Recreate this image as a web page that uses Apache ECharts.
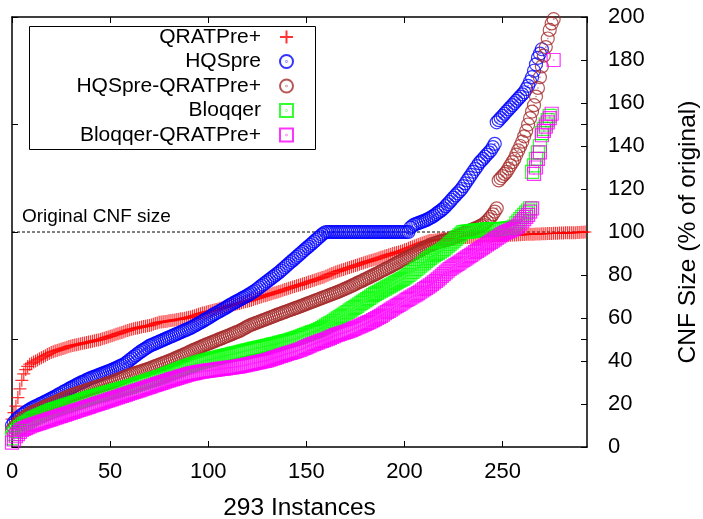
<!DOCTYPE html>
<html>
<head>
<meta charset="utf-8">
<title>CNF size</title>
<script src="https://cdn.jsdelivr.net/npm/echarts@6/dist/echarts.min.js"></script>
<style>
  html, body { margin: 0; padding: 0; background: #fff; }
  #chart { width: 703px; height: 519px; }
</style>
</head>
<body>
<div id="chart"></div>
<script>
// series names / colours, as in the key
var seriesNames = ['QRATPre+', 'HQSpre', 'HQSpre-QRATPre+', 'Bloqqer', 'Bloqqer-QRATPre+'];
var seriesColors = ['#ff0000', '#0000ff', '#a52a2a', '#00ff00', '#ff00ff'];
var xName = '293 Instances';
var yName = 'CNF Size (% of original)';
var refValue = 100;
var refLabel = 'Original CNF size';

// sorted CNF sizes (% of original), one value per instance rank
var qratpre = [
  13, 16, 19, 23, 27, 31, 34, 36, 37.5, 38.5,
  39, 39.5, 40, 40.5, 41, 41.5, 42, 42.5, 43, 43.5,
  44, 44.3, 44.6, 44.9, 45.2, 45.5, 45.8, 46.1, 46.4, 46.7,
  47, 47.2, 47.4, 47.6, 47.8, 48, 48.2, 48.4, 48.6, 48.8,
  49, 49.2, 49.4, 49.6, 49.8, 50, 50.3, 50.6, 50.9, 51.2,
  51.5, 51.8, 52.1, 52.4, 52.7, 53, 53.3, 53.6, 53.9, 54.2,
  54.5, 54.8, 55, 55.2, 55.4, 55.6, 55.8, 56, 56.2, 56.4,
  56.5, 56.8, 57.1, 57.4, 57.7, 58, 58.1, 58.2, 58.4, 58.5,
  58.7, 58.8, 59, 59.1, 59.3, 59.4, 59.6, 59.7, 59.9, 60.1,
  60.3, 60.5, 60.8, 61.1, 61.4, 61.7, 62, 62.3, 62.5, 62.8,
  63, 63.2, 63.5, 63.7, 64, 64.2, 64.5, 64.7, 65, 65.2,
  65.5, 65.7, 66, 66.2, 66.4, 66.6, 66.8, 67.1, 67.3, 67.6,
  67.8, 68, 68.3, 68.6, 68.9, 69.2, 69.5, 69.8, 70.1, 70.4,
  70.6, 70.9, 71.2, 71.5, 71.7, 72, 72.3, 72.6, 72.9, 73.2,
  73.5, 73.8, 74.1, 74.4, 74.7, 75, 75.2, 75.5, 75.8, 76.1,
  76.4, 76.7, 77, 77.3, 77.6, 77.9, 78.2, 78.5, 78.8, 79.1,
  79.5, 79.9, 80.3, 80.7, 81, 81.4, 81.7, 82, 82.3, 82.6,
  82.9, 83.2, 83.5, 83.8, 84.1, 84.4, 84.7, 85, 85.3, 85.6,
  85.9, 86.2, 86.5, 86.7, 87, 87.3, 87.6, 87.9, 88.2, 88.5,
  88.8, 89.1, 89.4, 89.7, 90, 90.2, 90.5, 90.7, 91, 91.3,
  91.7, 92, 92.4, 92.8, 93.1, 93.5, 93.8, 94.2, 94.5, 94.9,
  95.2, 95.5, 95.8, 96, 96.1, 96.2, 96.3, 96.5, 96.6, 96.7,
  96.8, 96.9, 97, 97, 97.1, 97.1, 97.2, 97.2, 97.3, 97.3,
  97.4, 97.4, 97.5, 97.5, 97.6, 97.6, 97.7, 97.7, 97.8, 97.9,
  98, 98, 98, 98.1, 98.1, 98.2, 98.2, 98.2, 98.3, 98.3,
  98.4, 98.4, 98.4, 98.5, 98.5, 98.6, 98.6, 98.6, 98.7, 98.7,
  98.8, 98.8, 98.9, 98.9, 99, 99, 99, 99.1, 99.1, 99.1,
  99.2, 99.2, 99.2, 99.3, 99.3, 99.3, 99.4, 99.4, 99.4, 99.5,
  99.5, 99.5, 99.6, 99.6, 99.6, 99.7, 99.7, 99.7, 99.8, 99.8,
  99.9, 99.9, 100
];

var hqspre = [
  10, 11.5, 12.5, 13.5, 14.3, 15, 15.6, 16.2, 16.8, 17.4,
  18, 18.4, 18.9, 19.3, 19.8, 20.2, 20.7, 21.1, 21.6, 22,
  22.5, 23, 23.5, 24, 24.5, 25, 25.5, 26, 26.5, 27,
  27.5, 28, 28.5, 29, 29.4, 29.9, 30.3, 30.7, 31.2, 31.6,
  32, 32.4, 32.7, 33, 33.4, 33.8, 34.1, 34.5, 34.8, 35.2,
  35.5, 35.9, 36.3, 36.7, 37.2, 37.6, 38, 38.5, 39, 39.7,
  40.5, 41.2, 41.9, 42.6, 43.3, 44, 44.6, 45.2, 45.8, 46.4,
  47, 47.4, 47.8, 48.2, 48.6, 49, 49.4, 49.8, 50.2, 50.6,
  51, 51.4, 51.8, 52.2, 52.6, 53, 53.4, 53.8, 54.2, 54.6,
  55, 55.4, 55.9, 56.4, 56.9, 57.4, 57.9, 58.4, 59, 59.5,
  60, 60.6, 61.2, 61.8, 62.3, 62.8, 63.3, 63.8, 64.3, 64.8,
  65.4, 66, 66.5, 67, 67.5, 68, 68.5, 69, 69.5, 70,
  70.5, 71, 71.6, 72.2, 72.8, 73.5, 74.2, 74.9, 75.6, 76.3,
  77, 77.7, 78.4, 79.1, 79.8, 80.5, 81.2, 82, 82.8, 83.6,
  84.4, 85.2, 86, 86.8, 87.6, 88.4, 89.2, 90, 90.8, 91.6,
  92.4, 93.2, 94, 94.8, 95.6, 96.4, 97.2, 98, 98.8, 99.5,
  100, 100, 100, 100, 100, 100, 100, 100, 100, 100,
  100, 100, 100, 100, 100, 100, 100, 100, 100, 100,
  100, 100, 100, 100, 100, 100, 100, 100, 100, 100,
  100, 100, 100, 100, 100, 100, 100, 100, 100, 100,
  100, 100, 100,
  102, 102.8, 103.5, 103.8, 104.1, 104.5, 104.8,
  105.2, 105.5, 106, 106.5, 107, 107.6, 108.3, 109, 109.6, 110.3,
  111, 112, 113, 114, 115, 116, 117, 118, 119, 120,
  121.3, 122.6, 124, 125.3, 126.6, 128, 129.3, 130.6, 132, 133,
  134, 135, 136, 137, 138, 139.5, 141,
  151, 152, 153, 154, 155, 156, 157, 158, 159, 160,
  161, 162, 163, 164, 165, 166.5, 168, 170, 172, 175,
  178, 181, 183, 185
];

var hqspreQratpre = [
  8, 9, 10, 11, 12, 13, 13.6, 14.2, 14.8, 15.4,
  16, 16.4, 16.8, 17.2, 17.6, 18, 18.4, 18.8, 19.2, 19.6,
  20, 20.4, 20.8, 21.2, 21.6, 22, 22.4, 22.8, 23.2, 23.6,
  24, 24.3, 24.6, 24.9, 25.2, 25.5, 25.8, 26.1, 26.4, 26.7,
  27, 27.3, 27.6, 27.9, 28.2, 28.5, 28.8, 29.1, 29.4, 29.7,
  30, 30.3, 30.7, 31, 31.4, 31.7, 32.1, 32.4, 32.8, 33.1,
  33.5, 33.8, 34.1, 34.4, 34.7, 35, 35.3, 35.6, 35.9, 36.2,
  36.5, 36.9, 37.2, 37.6, 37.9, 38.3, 38.6, 39, 39.3, 39.7,
  40, 40.4, 40.8, 41.2, 41.6, 42, 42.4, 42.8, 43.2, 43.6,
  44, 44.5, 44.9, 45.3, 45.7, 46.1, 46.5, 46.9, 47.3, 47.7,
  48, 48.4, 48.8, 49.1, 49.5, 49.9, 50.3, 50.6, 51, 51.4,
  51.7, 52.1, 52.5, 52.9, 53.3, 53.6, 54, 54.5, 55, 55.5,
  56, 56.5, 56.9, 57.2, 57.6, 57.9, 58.3, 58.6, 59, 59.3,
  59.7, 60, 60.4, 60.7, 61.1, 61.5, 61.8, 62.1, 62.5, 62.8,
  63.1, 63.5, 63.8, 64.1, 64.5, 64.8, 65.1, 65.5, 65.8, 66.2,
  66.5, 66.9, 67.2, 67.6, 67.9, 68.3, 68.6, 69, 69.3, 69.7,
  70, 70.4, 70.7, 71.1, 71.4, 71.8, 72.1, 72.5, 72.9, 73.3,
  73.7, 74.1, 74.5, 74.9, 75.4, 75.8, 76.3, 76.7, 77.1, 77.6,
  78, 78.5, 78.9, 79.4, 79.8, 80.3, 80.7, 81.2, 81.7, 82.2,
  82.6, 83.1, 83.5, 84, 84.5, 85, 85.5, 86, 86.5, 87,
  87.5, 88, 88.5, 89, 89.5, 90, 90.5, 91, 91.5, 92,
  92.5, 93, 93.5, 94, 94.3, 94.6, 94.9, 95.2, 95.5, 95.8,
  96, 96.2, 96.4, 96.6, 97, 97.4, 97.8, 98.2, 98.6, 99,
  99.4, 99.8, 100.2, 100.5, 100.9, 101.3, 101.7, 102.1, 102.5, 103,
  103.5, 104.2, 105, 106, 107, 108.2, 109.5, 111,
  124, 125, 126, 127, 128, 129.5, 131, 132.5, 134, 136, 138, 140,
  142, 144.5, 147, 150, 153, 156, 159, 163, 167, 172,
  177, 182, 186, 190, 194, 197, 199
];

var bloqqer = [
  4, 6, 7.5, 8.5, 9.3, 10, 10.6, 11.2, 11.8, 12.4,
  13, 13.4, 13.8, 14.2, 14.6, 15, 15.4, 15.8, 16.2, 16.6,
  17, 17.3, 17.6, 17.9, 18.2, 18.5, 18.8, 19.1, 19.4, 19.7,
  20, 20.3, 20.6, 20.9, 21.2, 21.5, 21.8, 22.1, 22.4, 22.7,
  23, 23.3, 23.5, 23.8, 24, 24.3, 24.5, 24.8, 25, 25.3,
  25.5, 25.8, 26, 26.3, 26.5, 26.8, 27, 27.3, 27.5, 27.8,
  28, 28.3, 28.6, 28.9, 29.2, 29.5, 29.8, 30.1, 30.4, 30.7,
  31, 31.3, 31.6, 31.9, 32.2, 32.5, 32.8, 33.2, 33.5, 33.9,
  34.2, 34.6, 34.9, 35.3, 35.6, 36, 36.3, 36.7, 37, 37.4,
  37.7, 38, 38.3, 38.6, 38.9, 39.2, 39.5, 39.8, 40, 40.3,
  40.5, 40.7, 41, 41.2, 41.4, 41.6, 41.9, 42.1, 42.3, 42.5,
  42.7, 42.9, 43.2, 43.4, 43.6, 43.8, 44, 44.2, 44.5, 44.7,
  44.9, 45.1, 45.4, 45.6, 45.8, 46, 46.2, 46.4, 46.6, 46.8,
  47, 47.2, 47.5, 47.7, 47.9, 48.1, 48.4, 48.6, 48.8, 49.1,
  49.3, 49.5, 49.8, 50.1, 50.4, 50.7, 51, 51.3, 51.7, 52.1,
  52.4, 52.7, 53.1, 53.4, 53.7, 54, 54.4, 54.8, 55.3, 55.9,
  56.5, 57, 57.5, 58, 58.6, 59.2, 59.8, 60.4, 61, 61.6,
  62.2, 62.8, 63.4, 64, 64.6, 65.2, 65.8, 66.4, 67, 67.6,
  68.2, 68.8, 69.4, 70, 70.6, 71.2, 71.7, 72.2, 72.7, 73.2,
  73.7, 74.2, 74.7, 75.2, 75.7, 76.2, 76.7, 77.2, 77.7, 78.2,
  78.8, 79.4, 80, 80.7, 81.4, 82.1, 82.8, 83.5, 84.3, 85,
  85.8, 86.6, 87.3, 88, 88.6, 89.2, 89.8, 90.3, 90.9, 91.4,
  92, 92.8, 93.6, 94.4, 95.2, 96, 96.8, 97.6, 98.4, 99.2,
  100, 100.1, 100.2, 100.3, 100.4, 100.5, 100.6, 100.7, 100.8, 100.9,
  101, 101, 101.1, 101.1, 101.2, 101.2, 101.3, 101.3, 101.4, 101.4,
  101.5, 101.5, 101.6, 101.7, 101.8, 102, 102.5,
  104, 105, 106, 107, 108, 109, 110, 111,
  128, 131, 134, 137, 140, 146, 148, 150, 152, 154
];

var bloqqerQratpre = [
  2, 3.5, 5, 6, 7, 8, 8.4, 8.8, 9.2, 9.6,
  10, 10.3, 10.6, 10.9, 11.2, 11.5, 11.8, 12.1, 12.4, 12.7,
  13, 13.3, 13.6, 13.9, 14.2, 14.5, 14.8, 15.1, 15.4, 15.7,
  16, 16.3, 16.6, 16.9, 17.2, 17.5, 17.8, 18.1, 18.4, 18.7,
  19, 19.3, 19.6, 19.9, 20.2, 20.5, 20.8, 21.1, 21.4, 21.7,
  22, 22.3, 22.6, 22.9, 23.2, 23.5, 23.8, 24.1, 24.4, 24.7,
  25, 25.3, 25.6, 25.9, 26.2, 26.5, 26.8, 27.1, 27.4, 27.7,
  28, 28.3, 28.6, 28.9, 29.2, 29.5, 29.8, 30.1, 30.4, 30.7,
  31, 31.3, 31.6, 31.8, 32.1, 32.4, 32.7, 33, 33.2, 33.5,
  33.8, 34, 34.2, 34.4, 34.6, 34.8, 35, 35.1, 35.3, 35.4,
  35.5, 35.6, 35.8, 35.9, 36, 36.1, 36.3, 36.4, 36.5, 36.6,
  36.8, 36.9, 37, 37.1, 37.3, 37.4, 37.5, 37.7, 37.9, 38.1,
  38.3, 38.5, 38.7, 38.9, 39.1, 39.3, 39.5, 39.7, 39.9, 40.1,
  40.3, 40.6, 40.9, 41.2, 41.5, 41.8, 42.1, 42.4, 42.7, 43,
  43.3, 43.6, 43.8, 44.1, 44.4, 44.7, 45, 45.3, 45.7, 46.1,
  46.5, 46.9, 47.3, 47.7, 48, 48.4, 48.7, 49.1, 49.4, 49.7,
  50, 50.4, 50.8, 51.2, 51.6, 52, 52.3, 52.6, 52.9, 53.2,
  53.5, 53.8, 54.1, 54.5, 54.9, 55.3, 55.7, 56.1, 56.5, 56.9,
  57.3, 57.7, 58.1, 58.5, 59, 59.5, 60, 60.5, 61, 61.6,
  62.2, 62.8, 63.3, 63.9, 64.5, 65, 65.6, 66.1, 66.7, 67.2,
  67.8, 68.4, 68.9, 69.5, 70, 70.5, 71, 71.6, 72.2, 72.8,
  73.4, 74, 74.6, 75.2, 75.9, 76.6, 77.3, 78, 78.8, 79.6,
  80.4, 81.2, 82, 82.8, 83.4, 84, 84.6, 85.2, 85.8, 86.4,
  87, 87.6, 88.2, 88.8, 89.4, 90, 90.6, 91.2, 91.8, 92.4,
  93, 93.6, 94.2, 94.8, 95.4, 96, 96.6, 97.2, 97.8, 98.4,
  99, 99.6, 100, 100.4, 100.8, 101.2, 101.6, 102.2, 103, 104,
  105, 106, 107, 108, 109.5, 111,
  127, 130, 134, 137, 145, 147, 149, 151, 153, 155, 180
];

var seriesValues = [qratpre, hqspre, hqspreQratpre, bloqqer, bloqqerQratpre];

var FONT = '"Liberation Sans", Arial, Helvetica, sans-serif';
var plusSymbol = 'path://M-1,0H1M0,-1V1';
var circleSymbol = 'path://M1,0A1,1,0,1,1,-1,0A1,1,0,1,1,1,0ZM0.03,0A0.03,0.03,0,1,1,-0.03,0A0.03,0.03,0,1,1,0.03,0Z';
var squareSymbol = 'path://M-1,-1H1V1H-1ZM0.03,0A0.03,0.03,0,1,1,-0.03,0A0.03,0.03,0,1,1,0.03,0Z';
var seriesSymbols = [plusSymbol, circleSymbol, circleSymbol, squareSymbol, squareSymbol];

function toPoints(arr) {
  return arr.map(function (v, i) { return [i, v]; });
}

var series = [{
  name: 'ref',
  type: 'line',
  data: [[0, refValue], [293, refValue]],
  symbol: 'none',
  silent: true,
  lineStyle: { color: '#000', width: 1, type: [3, 2] },
  z: 1
}];
seriesNames.forEach(function (name, k) {
  series.push({
    name: name,
    type: 'scatter',
    data: toPoints(seriesValues[k]),
    symbol: seriesSymbols[k],
    symbolSize: 13,
    clip: false,
    itemStyle: { color: 'transparent', borderColor: seriesColors[k], borderWidth: 1.2 },
    emphasis: { disabled: true },
    z: 2 + k
  });
});

var chart = echarts.init(document.getElementById('chart'));
chart.setOption({
  animation: false,
  backgroundColor: '#fff',
  grid: { left: 12, right: 116, top: 17, bottom: 72, outerBoundsMode: 'none', containLabel: false },
  legend: {
    data: seriesNames,
    orient: 'vertical',
    align: 'right',
    right: 409,
    top: 26.5,
    padding: 0,
    itemWidth: 13,
    itemHeight: 13,
    itemGap: 3.5,
    selectedMode: false,
    textStyle: { fontSize: 21, fontFamily: FONT, color: '#000', lineHeight: 21, padding: [0, 14, 0, 0] }
  },
  graphic: [
    { type: 'rect', left: 27, top: 24, shape: { width: 286, height: 123 },
      style: { fill: 'none', stroke: '#000', lineWidth: 1 }, z: 100 },
    { type: 'text', left: 22, top: 207,
      style: { text: refLabel, font: '19px ' + FONT, fill: '#000' } }
  ],
  xAxis: [{
    type: 'value', min: 0, max: 293, interval: 50, position: 'bottom',
    name: xName, nameLocation: 'middle', nameGap: 49,
    nameTextStyle: { fontSize: 24.5, fontFamily: FONT, color: '#000' },
    axisLine: { show: true, onZero: false, lineStyle: { color: '#000', width: 1.5 } },
    axisTick: { show: true, inside: true, length: 6, lineStyle: { color: '#000' } },
    axisLabel: { fontSize: 22, fontFamily: FONT, color: '#000', margin: 14, showMaxLabel: false },
    splitLine: { show: false }
  }, {
    type: 'value', min: 0, max: 293, interval: 50, position: 'top',
    axisLine: { show: true, onZero: false, lineStyle: { color: '#000', width: 1.5 } },
    axisTick: { show: true, inside: true, length: 6, lineStyle: { color: '#000' } },
    axisLabel: { show: false },
    splitLine: { show: false }
  }],
  yAxis: [{
    type: 'value', min: 0, max: 200, interval: 20, position: 'right',
    name: yName, nameLocation: 'middle', nameRotate: 90, nameGap: 89,
    nameTextStyle: { fontSize: 24.5, fontFamily: FONT, color: '#000' },
    axisLine: { show: true, onZero: false, lineStyle: { color: '#000', width: 1.5 } },
    axisTick: { show: true, inside: true, length: 6, lineStyle: { color: '#000' } },
    axisLabel: { fontSize: 22, fontFamily: FONT, color: '#000', margin: 21 },
    splitLine: { show: false }
  }, {
    type: 'value', min: 0, max: 200, interval: 50, position: 'left',
    axisLine: { show: true, onZero: false, lineStyle: { color: '#000', width: 1.5 } },
    axisTick: { show: true, inside: true, length: 6, lineStyle: { color: '#000' } },
    axisLabel: { show: false },
    splitLine: { show: false }
  }, {
    type: 'value', min: 0, max: 200, interval: 50, position: 'right',
    axisLine: { show: false, onZero: false },
    axisTick: { show: true, inside: true, length: 6, lineStyle: { color: '#000' } },
    axisLabel: { show: false },
    splitLine: { show: false }
  }],
  series: series
});
</script>
</body>
</html>
